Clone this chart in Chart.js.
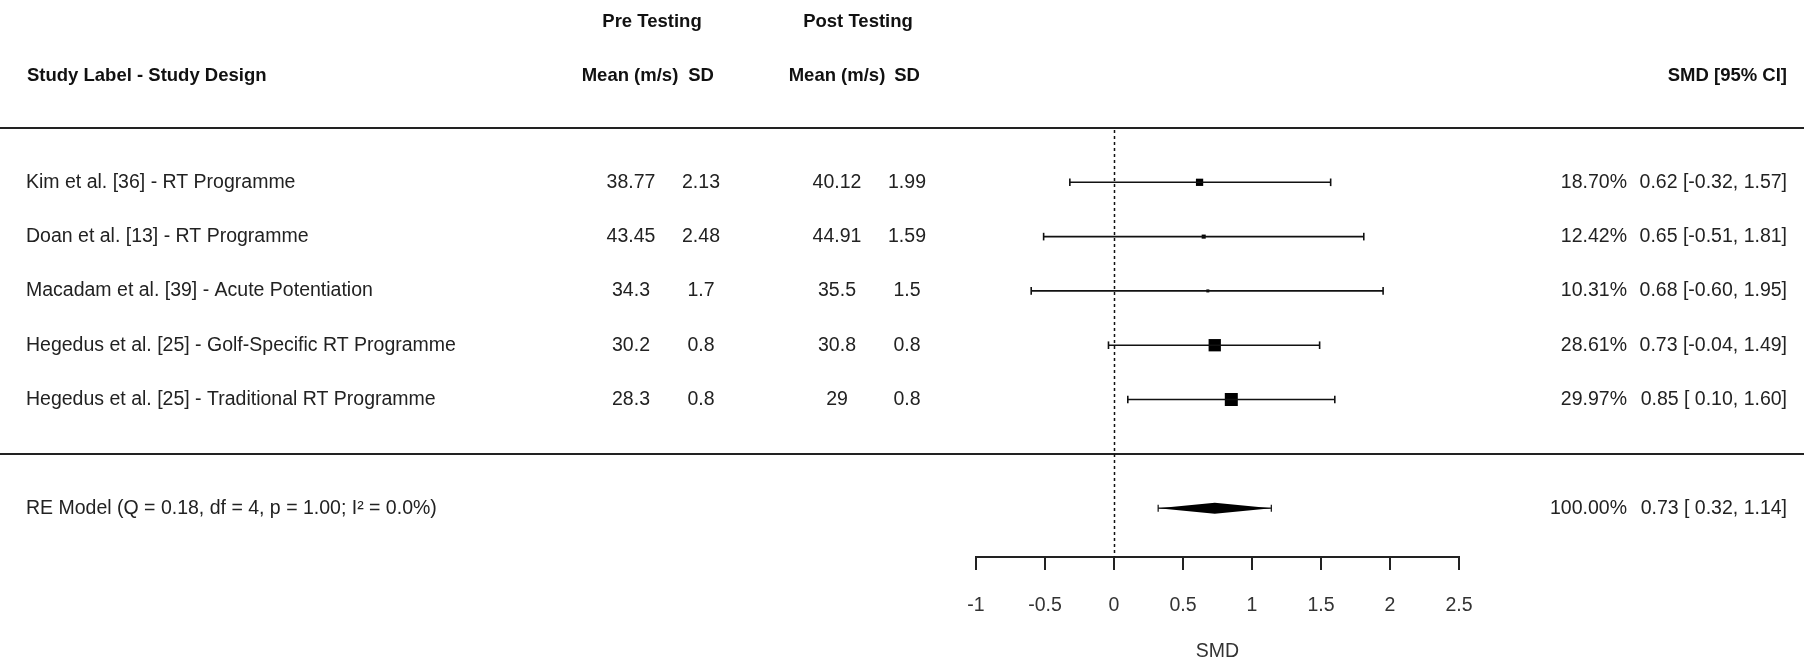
<!DOCTYPE html>
<html>
<head>
<meta charset="utf-8">
<script src="https://cdn.jsdelivr.net/npm/chart.js@4.4.1/dist/chart.umd.min.js"></script>
<style>
  html, body { margin: 0; padding: 0; background: #fff; }
  canvas { display: block; }
</style>
</head>
<body>
<canvas id="forest" width="1804" height="664"></canvas>
<script>
// ---- data (top row first) ----
const studyLabels = [
  'Kim et al. [36] - RT Programme',
  'Doan et al. [13] - RT Programme',
  'Macadam et al. [39] - Acute Potentiation',
  'Hegedus et al. [25] - Golf-Specific RT Programme',
  'Hegedus et al. [25] - Traditional RT Programme'
];
const preMean  = [38.77, 43.45, 34.3, 30.2, 28.3];
const preSD    = [2.13, 2.48, 1.7, 0.8, 0.8];
const postMean = [40.12, 44.91, 35.5, 30.8, 29];
const postSD   = [1.99, 1.59, 1.5, 0.8, 0.8];
const weights  = [18.70, 12.42, 10.31, 28.61, 29.97];
const smd      = [0.62, 0.65, 0.68, 0.73, 0.85];
const ciLow    = [-0.32, -0.51, -0.60, -0.04, 0.10];
const ciHigh   = [1.57, 1.81, 1.95, 1.49, 1.60];

// random effects summary
const reLabel  = 'RE Model (Q = 0.18, df = 4, p = 1.00; I\u00B2 = 0.0%)';
const reWeight = 100.00;
const reEst    = 0.73;
const reLow    = 0.32;
const reHigh   = 1.14;

const xTicks = [-1, -0.5, 0, 0.5, 1, 1.5, 2, 2.5];

// ---- helpers ----
const FONT = '"Liberation Sans", Arial, sans-serif';
const nStudies = studyLabels.length;
const reRow = nStudies + 2;

function fmtCI(est, lo, hi) {
  const l = lo < 0 ? lo.toFixed(2) : ' ' + lo.toFixed(2);
  return est.toFixed(2) + ' [' + l + ', ' + hi.toFixed(2) + ']';
}

// square side grows with weight (like metafor)
const wMin = Math.min(...weights), wMax = Math.max(...weights);
const pointRadii = weights.map(w => (3 + 10 * (w - wMin) / (wMax - wMin)) / (2 * Math.SQRT1_2));

// whisker datasets, one per study + summary
const whiskers = studyLabels.map((s, i) => ({
  type: 'line',
  data: [{ x: ciLow[i], y: i + 1 }, { x: ciHigh[i], y: i + 1 }],
  borderColor: '#111',
  borderWidth: 1.6,
  pointStyle: 'line',
  pointRotation: 90,
  pointRadius: 3.8,
  pointBorderWidth: 1.6,
  pointBorderColor: '#111',
  showLine: true
}));
whiskers.push({
  type: 'line',
  data: [{ x: reLow, y: reRow }, { x: reHigh, y: reRow }],
  borderColor: '#111',
  borderWidth: 1.2,
  pointStyle: 'line',
  pointRotation: 90,
  pointRadius: 3.5,
  pointBorderWidth: 1.2,
  pointBorderColor: '#111',
  showLine: true
});

const forestPlugin = {
  id: 'forestPlugin',
  beforeDatasetsDraw(chart) {
    const { ctx, scales: { x, y } } = chart;
    ctx.save();
    // horizontal rules
    ctx.strokeStyle = '#222';
    ctx.lineWidth = 2;
    [0, nStudies + 1].forEach(v => {
      const py = Math.round(y.getPixelForValue(v));
      ctx.beginPath();
      ctx.moveTo(0, py);
      ctx.lineTo(chart.width, py);
      ctx.stroke();
    });
    // dotted reference line at 0
    const x0 = Math.round(x.getPixelForValue(0)) + 0.5;
    ctx.setLineDash([3, 3]);
    ctx.lineWidth = 1.5;
    ctx.strokeStyle = '#111';
    ctx.beginPath();
    ctx.moveTo(x0, y.getPixelForValue(0) + 2);
    ctx.lineTo(x0, y.bottom);
    ctx.stroke();
    ctx.restore();
  },
  afterDatasetsDraw(chart) {
    const { ctx, scales: { x, y } } = chart;
    // summary diamond
    const py = y.getPixelForValue(reRow);
    ctx.save();
    ctx.fillStyle = '#000';
    ctx.beginPath();
    ctx.moveTo(x.getPixelForValue(reLow), py);
    ctx.lineTo(x.getPixelForValue(reEst), py - 5.5);
    ctx.lineTo(x.getPixelForValue(reHigh), py);
    ctx.lineTo(x.getPixelForValue(reEst), py + 5.5);
    ctx.closePath();
    ctx.fill();
    ctx.restore();
  },
  afterDraw(chart) {
    const { ctx, scales: { y } } = chart;
    ctx.save();
    ctx.textBaseline = 'middle';

    // headers
    ctx.fillStyle = '#111';
    ctx.font = 'bold 18.5px ' + FONT;
    const h1 = y.getPixelForValue(-2) + 3;
    const h2 = y.getPixelForValue(-1) + 2;
    ctx.textAlign = 'center';
    ctx.fillText('Pre Testing', 652, h1);
    ctx.fillText('Post Testing', 858, h1);
    ctx.fillText('Mean (m/s)', 630, h2);
    ctx.fillText('SD', 701, h2);
    ctx.fillText('Mean (m/s)', 837, h2);
    ctx.fillText('SD', 907, h2);
    ctx.textAlign = 'left';
    ctx.fillText('Study Label - Study Design', 27, h2);
    ctx.textAlign = 'right';
    ctx.fillText('SMD [95% CI]', 1787, h2);

    // study rows
    ctx.fillStyle = '#222';
    ctx.font = '19.5px ' + FONT;
    studyLabels.forEach((lab, i) => {
      const py = y.getPixelForValue(i + 1);
      ctx.textAlign = 'left';
      ctx.fillText(lab, 26, py);
      ctx.textAlign = 'center';
      ctx.fillText(String(preMean[i]), 631, py);
      ctx.fillText(String(preSD[i]), 701, py);
      ctx.fillText(String(postMean[i]), 837, py);
      ctx.fillText(String(postSD[i]), 907, py);
      ctx.textAlign = 'right';
      ctx.fillText(weights[i].toFixed(2) + '%', 1627, py);
      ctx.fillText(fmtCI(smd[i], ciLow[i], ciHigh[i]), 1787, py);
    });

    // summary row
    const pr = y.getPixelForValue(reRow);
    ctx.textAlign = 'left';
    ctx.fillText(reLabel, 26, pr);
    ctx.textAlign = 'right';
    ctx.fillText(reWeight.toFixed(2) + '%', 1627, pr);
    ctx.fillText(fmtCI(reEst, reLow, reHigh), 1787, pr);
    ctx.restore();
  }
};

new Chart(document.getElementById('forest'), {
  type: 'scatter',
  data: {
    datasets: [
      ...whiskers,
      {
        type: 'scatter',
        data: smd.map((v, i) => ({ x: v, y: i + 1 })),
        pointStyle: 'rect',
        pointRadius: pointRadii,
        pointBorderWidth: 0,
        backgroundColor: '#000',
        borderColor: '#000'
      }
    ]
  },
  options: {
    responsive: false,
    animation: false,
    events: [],
    layout: { padding: { left: 976, right: 345, top: 128, bottom: 0 } },
    plugins: {
      legend: { display: false },
      tooltip: { enabled: false }
    },
    scales: {
      x: {
        type: 'linear',
        min: -1,
        max: 2.5,
        afterBuildTicks: (scale) => { scale.ticks = xTicks.map(v => ({ value: v })); },
        afterFit: (scale) => { scale.height = 107; },
        border: { display: true, color: '#222', width: 2 },
        grid: { drawOnChartArea: false, drawTicks: true, tickLength: 13, color: '#222', lineWidth: 2 },
        ticks: {
          color: '#333',
          padding: 24,
          font: { family: FONT, size: 19.5 },
          callback: (value) => String(value)
        },
        title: { display: true, text: 'SMD', color: '#333', font: { family: FONT, size: 19.5 }, padding: { top: 0, bottom: 1 } }
      },
      y: {
        type: 'linear',
        display: false,
        reverse: true,
        min: 0,
        max: 7.9
      }
    }
  },
  plugins: [forestPlugin]
});
</script>
</body>
</html>
